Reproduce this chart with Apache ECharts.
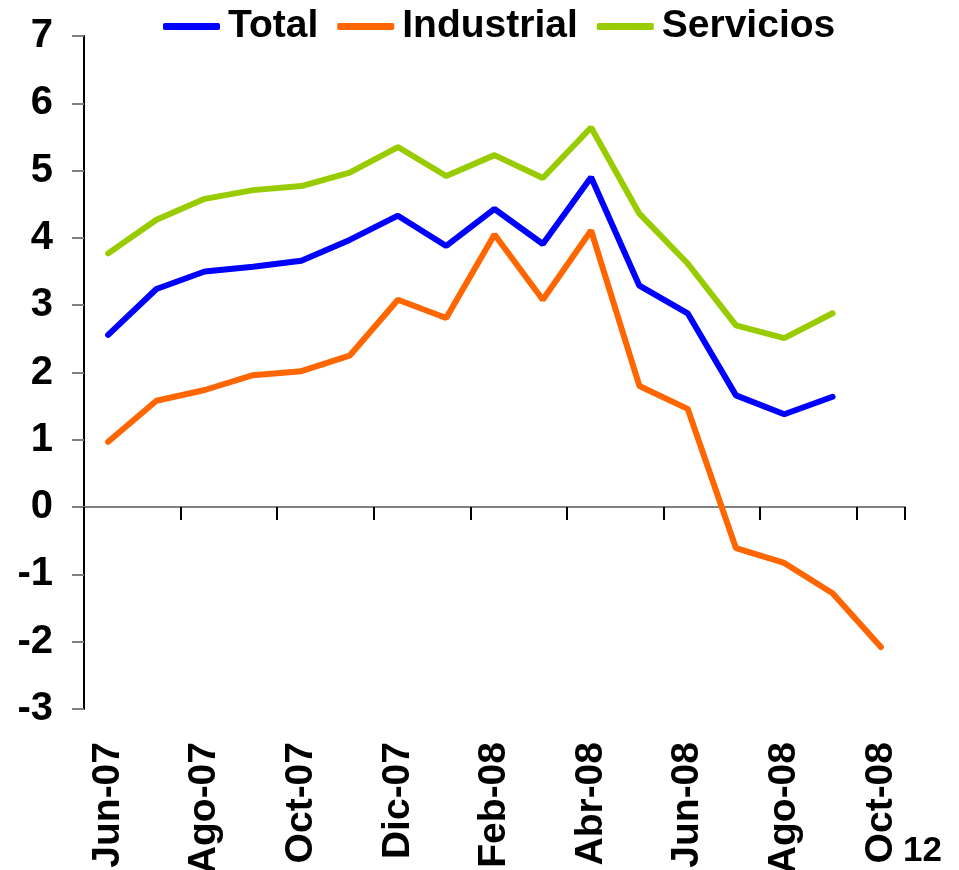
<!DOCTYPE html>
<html>
<head>
<meta charset="utf-8">
<script src="https://cdn.jsdelivr.net/npm/echarts@6/dist/echarts.min.js"></script>
<style>
  html, body { margin: 0; padding: 0; background: #fff; }
  #charts { width: 959px; height: 870px; }
</style>
</head>
<body>
<div id="charts"></div>
<script>
var months = [
    "Jun-07", "Jul-07", "Ago-07", "Sep-07", "Oct-07", "Nov-07", "Dic-07",
    "Ene-08", "Feb-08", "Mar-08", "Abr-08", "May-08", "Jun-08", "Jul-08",
    "Ago-08", "Sep-08", "Oct-08"
];
var total = [2.56, 3.24, 3.50, 3.57, 3.66, 3.97, 4.33, 3.88, 4.43, 3.91, 4.90, 3.29, 2.88, 1.66, 1.38, 1.64, null];
var industrial = [0.97, 1.58, 1.74, 1.96, 2.02, 2.25, 3.08, 2.81, 4.05, 3.08, 4.11, 1.80, 1.46, -0.61, -0.83, -1.28, -2.08];
var servicios = [3.77, 4.27, 4.58, 4.71, 4.77, 4.97, 5.35, 4.92, 5.23, 4.89, 5.64, 4.36, 3.62, 2.70, 2.51, 2.88, null];

var font = "'Liberation Sans', Arial, sans-serif";
var charts = echarts.init(document.getElementById('charts'));

var option = {
    backgroundColor: "#ffffff",
    animation: false,
    grid: {
        left: 84,
        right: 54,
        top: 36,
        bottom: 161,
        containLabel: false,
        outerBoundsMode: "none",
    },
    legend: {
        data: ["Total", "Industrial", "Servicios"],
        left: 158,
        top: 2,
        icon: "roundRect",
        itemWidth: 57,
        itemHeight: 7,
        itemGap: 19,
        textStyle: {
            color: "#000",
            fontSize: 39,
            fontWeight: "bold",
            fontFamily: font,
            padding: [0, 0, 0, 3],
        },
    },
    xAxis: [
        {
            type: "category",
            data: months,
            boundaryGap: true,
            axisLine: {
                show: true,
                onZero: true,
                lineStyle: { color: "#808080", width: 2 },
            },
            axisTick: {
                show: true,
                interval: 1,
                length: 13,
                lineStyle: { color: "#000", width: 2 },
            },
            axisLabel: { show: false },
        },
        {
            type: "category",
            data: months,
            position: "bottom",
            boundaryGap: true,
            axisLine: { show: false, onZero: false },
            axisTick: { show: false },
            axisLabel: {
                interval: 1,
                rotate: 90,
                margin: 33,
                color: "#000",
                fontSize: 39,
                fontWeight: "bold",
                fontFamily: font,
            },
        },
    ],
    yAxis: {
        type: "value",
        min: -3,
        max: 7,
        interval: 1,
        splitLine: { show: false },
        axisLine: {
            show: true,
            onZero: false,
            lineStyle: { color: "#000", width: 2 },
        },
        axisTick: {
            show: true,
            length: 12,
            lineStyle: { color: "#808080", width: 2 },
        },
        axisLabel: {
            margin: 31,
            color: "#000",
            fontSize: 40,
            fontWeight: "bold",
            fontFamily: font,
        },
    },
    series: [
        {
            name: "Total",
            type: "line",
            data: total,
            showSymbol: false,
            symbol: "none",
            color: "#0000FF",
            lineStyle: { width: 6, color: "#0000FF", cap: "round" },
        },
        {
            name: "Industrial",
            type: "line",
            data: industrial,
            showSymbol: false,
            symbol: "none",
            color: "#FF6600",
            lineStyle: { width: 6, color: "#FF6600", cap: "round" },
        },
        {
            name: "Servicios",
            type: "line",
            data: servicios,
            showSymbol: false,
            symbol: "none",
            color: "#99CC00",
            lineStyle: { width: 6, color: "#99CC00", cap: "round" },
        },
    ],
    graphic: [
        {
            type: "text",
            left: 903,
            top: 834,
            style: {
                text: "12",
                fill: "#000",
                font: "bold 35px " + font,
            },
        },
    ],
};

charts.setOption(option);
</script>
</body>
</html>
